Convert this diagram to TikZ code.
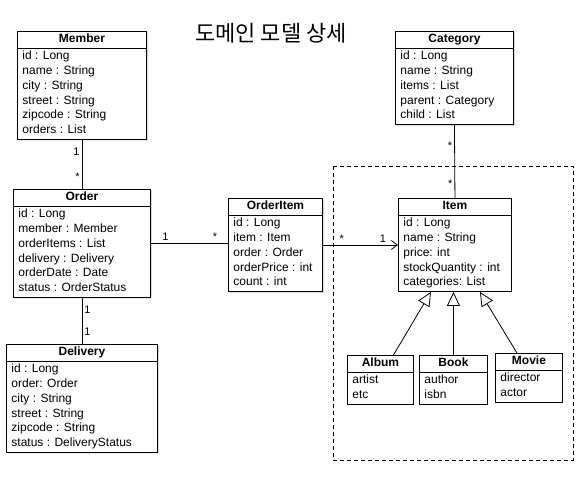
\documentclass[tikz,border=0pt]{standalone}
\usepackage{fontspec}
\setmainfont{Liberation Sans}
\newfontfamily\krfont{Noto Sans CJK KR}
\usetikzlibrary{shapes.multipart, shadows, arrows.meta}

\tikzset{
  umlbox/.style={draw, line width=0.9pt, fill=white, rectangle split,
    rectangle split parts=2, rectangle split part align={center,left},
    align=left, anchor=north west, inner xsep=5pt, inner ysep=0.6pt,
    font=\fontsize{12}{14.8}\selectfont},
  umlshadow/.style={drop shadow={shadow xshift=1.2pt, shadow yshift=-1.2pt, opacity=0.45}},
  assoc/.style={line width=0.8pt},
  mult/.style={font=\fontsize{11}{13}\selectfont, inner sep=2pt},
  inherit/.style={line width=0.8pt, -{Triangle[open, length=14pt, width=13pt]}},
}

\begin{document}
\begin{tikzpicture}[x=1pt, y=-1pt]

    \useasboundingbox (0,0) rectangle (586,480);

    % 1. Tieu de
    \node[font=\krfont\fontsize{22}{25}\selectfont] (title) at (271,33) {도메인 모델 상세};

    % 2. Vung dut net quanh Item
    \draw[line width=0.8pt, dash pattern=on 4pt off 3pt] (333,166) rectangle (573,460);

    % 3. Cac lop ben trai
    \node[umlbox, umlshadow, minimum width=129pt] (member) at (17,31)
        {\textbf{Member}\strut
         \nodepart{second}\strut id : Long\\name : String\\city : String\\street : String\\zipcode : String\\orders : List\strut};
    \node[umlbox, umlshadow, minimum width=137pt] (order) at (13,189)
        {\textbf{Order}\strut
         \nodepart{second}\strut id : Long\\member : Member\\orderItems : List\\delivery : Delivery\\orderDate : Date\\status : OrderStatus\strut};
    \node[umlbox, umlshadow, minimum width=151pt] (delivery) at (6,344)
        {\textbf{Delivery}\strut
         \nodepart{second}\strut id : Long\\order: Order\\city : String\\street : String\\zipcode : String\\status : DeliveryStatus\strut};
    \node[umlbox, umlshadow, minimum width=94pt] (orderitem) at (228,198)
        {\textbf{OrderItem}\strut
         \nodepart{second}\strut id : Long\\item : Item\\order : Order\\orderPrice : int\\count : int\strut};

    % 4. Cac lop ben phai
    \node[umlbox, umlshadow, minimum width=118pt] (category) at (395,31)
        {\textbf{Category}\strut
         \nodepart{second}\strut id : Long\\name : String\\items : List\\parent : Category\\child : List\strut};
    \node[umlbox, minimum width=113pt] (item) at (398,198)
        {\textbf{Item}\strut
         \nodepart{second}\strut id : Long\\name : String\\price: int\\stockQuantity : int\\categories: List\strut};
    \node[umlbox, minimum width=66pt] (album) at (347,355)
        {\textbf{Album}\strut
         \nodepart{second}\strut artist\\etc\strut};
    \node[umlbox, minimum width=68pt] (book) at (419,355)
        {\textbf{Book}\strut
         \nodepart{second}\strut author\\isbn\strut};
    \node[umlbox, minimum width=67pt] (movie) at (495,353)
        {\textbf{Movie}\strut
         \nodepart{second}\strut director\\actor\strut};

    % 5. Lien ket
    \draw[assoc] (member.south) -- (order.north)
        node[mult, pos=0.24, left] {1} node[mult, pos=0.76, left] {*};
    \draw[assoc] (order.south) -- (delivery.north)
        node[mult, pos=0.26, right] {1} node[mult, pos=0.74, right] {1};
    \draw[assoc] (order.east) -- (order.east -| orderitem.west)
        node[mult, pos=0.19, above] {1} node[mult, pos=0.83, above] {*};
    \draw[assoc, -{Straight Barb[length=6pt, width=9pt]}] (orderitem.east) -- (item.west)
        node[mult, pos=0.25, above] {*} node[mult, pos=0.8, above] {1};
    \draw[assoc] (category.south) -- (item.north)
        node[mult, pos=0.29, left] {*} node[mult, pos=0.8, left] {*};

    % 6. Ke thua
    \draw[inherit] ([xshift=13pt]album.north) -- ([xshift=-24pt]item.south);
    \draw[inherit] (book.north) -- (book.north |- item.south);
    \draw[inherit] ([xshift=-12pt]movie.north) -- ([xshift=25pt]item.south);

\end{tikzpicture}
\end{document}
